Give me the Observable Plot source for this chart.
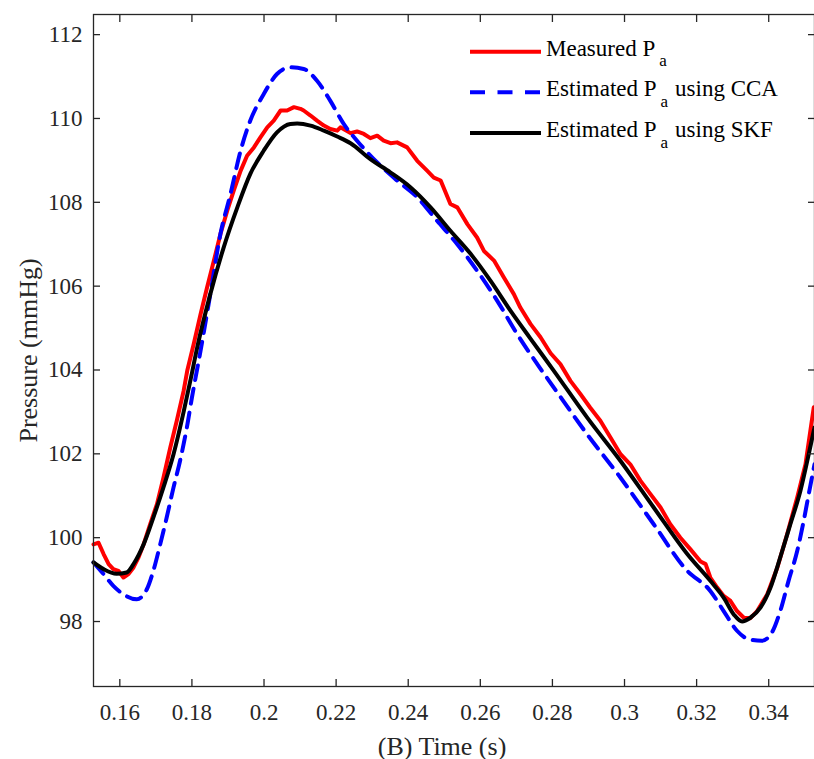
<!DOCTYPE html>
<html><head><meta charset="utf-8">
<script src="https://cdn.jsdelivr.net/npm/d3@7"></script>
<script src="https://cdn.jsdelivr.net/npm/@observablehq/plot@0.6"></script>
<style>body{margin:0;background:#fff} #chart{width:814px;height:759px}</style>
</head><body><div id="chart"></div>
<script>
// ---- data (time in s, pressure in mmHg) ----
const measuredT = [0.1527,0.1541,0.1555,0.1569,0.1582,0.1596,0.1610,0.1624,0.1638,0.1652,0.1666,0.1684,0.1703,0.1721,0.1740,0.1758,0.1777,0.1787,0.1805,0.1824,0.1842,0.1861,0.1879,0.1898,0.1916,0.1935,0.1953,0.1972,0.1990,0.2009,0.2027,0.2046,0.2064,0.2083,0.2101,0.2110,0.2129,0.2147,0.2166,0.2184,0.2203,0.2212,0.2240,0.2258,0.2277,0.2295,0.2314,0.2332,0.2351,0.2369,0.2397,0.2425,0.2453,0.2471,0.2490,0.2517,0.2536,0.2564,0.2591,0.2610,0.2638,0.2665,0.2693,0.2711,0.2739,0.2767,0.2795,0.2822,0.2850,0.2878,0.2905,0.2933,0.2961,0.2989,0.3016,0.3044,0.3072,0.3100,0.3127,0.3155,0.3183,0.3211,0.3225,0.3238,0.3257,0.3275,0.3294,0.3312,0.3331,0.3349,0.3368,0.3396,0.3424,0.3451,0.3479,0.3502,0.3525];
const measuredP = [99.84,99.88,99.61,99.37,99.25,99.21,99.05,99.13,99.29,99.53,99.84,100.32,100.80,101.43,102.15,102.79,103.50,103.98,104.62,105.33,105.97,106.61,107.24,107.80,108.28,108.75,109.11,109.31,109.55,109.79,109.95,110.19,110.19,110.27,110.23,110.19,110.07,109.95,109.83,109.75,109.71,109.79,109.65,109.69,109.63,109.53,109.59,109.47,109.41,109.43,109.31,108.99,108.75,108.59,108.52,107.96,107.88,107.48,107.16,106.84,106.61,106.21,105.81,105.49,105.10,104.78,104.40,104.14,103.74,103.42,103.10,102.79,102.39,101.99,101.75,101.36,101.04,100.72,100.32,100.00,99.72,99.43,99.37,99.05,98.81,98.61,98.49,98.25,98.09,98.08,98.25,98.65,99.29,100.08,100.96,101.75,103.11];

const ccaT = [0.1527,0.1555,0.1582,0.1610,0.1647,0.1675,0.1693,0.1712,0.1730,0.1749,0.1767,0.1786,0.1800,0.1824,0.1851,0.1879,0.1907,0.1935,0.1962,0.1999,0.2036,0.2073,0.2110,0.2147,0.2184,0.2221,0.2258,0.2314,0.2369,0.2425,0.2480,0.2536,0.2591,0.2647,0.2702,0.2758,0.2804,0.2896,0.2989,0.3081,0.3174,0.3238,0.3275,0.3312,0.3344,0.3381,0.3409,0.3432,0.3455,0.3479,0.3497,0.3511,0.3527];
const ccaP = [99.41,99.13,98.85,98.65,98.53,98.77,99.21,99.84,100.48,101.20,101.83,102.63,103.34,104.46,105.81,107.24,108.20,109.23,109.95,110.58,111.06,111.22,111.18,110.90,110.42,109.87,109.47,108.95,108.52,108.12,107.56,107.00,106.37,105.65,104.86,104.14,103.58,102.47,101.43,100.32,99.21,98.73,98.25,97.78,97.58,97.54,97.74,98.25,98.97,99.68,100.40,101.04,101.75];

const skfT = [0.1527,0.1555,0.1591,0.1619,0.1638,0.1666,0.1693,0.1721,0.1749,0.1777,0.1797,0.1815,0.1851,0.1888,0.1926,0.1962,0.1999,0.2036,0.2073,0.2092,0.2129,0.2166,0.2203,0.2240,0.2295,0.2351,0.2406,0.2462,0.2517,0.2573,0.2628,0.2684,0.2739,0.2804,0.2896,0.2989,0.3081,0.3174,0.3238,0.3275,0.3303,0.3326,0.3349,0.3377,0.3405,0.3432,0.3460,0.3488,0.3515,0.3527];
const skfP = [99.41,99.25,99.14,99.17,99.37,99.84,100.48,101.20,101.99,103.00,103.80,104.55,105.81,106.92,107.88,108.68,109.23,109.67,109.87,109.88,109.83,109.71,109.57,109.41,109.03,108.71,108.36,107.88,107.32,106.77,106.13,105.41,104.75,103.98,102.87,101.83,100.72,99.61,98.97,98.57,98.17,98.00,98.09,98.33,98.81,99.53,100.32,101.12,102.15,102.63];

const xTicks = [0.16,0.18,0.2,0.22,0.24,0.26,0.28,0.3,0.32,0.34];
const yTicks = [98,100,102,104,106,108,110,112];
const xDomain = [0.1527, 0.3527];
const yDomain = [96.45, 112.48];

const xLabel = "(B) Time (s)";
const yLabel = "Pressure (mmHg)";
const legendParts = [
  ["Measured P", "a", ""],
  ["Estimated P", "a", "using CCA"],
  ["Estimated P", "a", "using SKF"]
];

const toRows = (T, P) => T.map((t, i) => ({t, p: P[i]}));
const measured = toRows(measuredT, measuredP);
const cca = toRows(ccaT, ccaP);
const skf = toRows(skfT, skfP);

const font = "'Liberation Serif', 'Times New Roman', serif";
const ink = "#262626";

const chart = Plot.plot({
  width: 814, height: 759,
  marginLeft: 93, marginRight: 0, marginTop: 14, marginBottom: 73,
  style: {fontFamily: font, fontSize: "23px", color: ink, background: "#fff"},
  x: {domain: xDomain},
  y: {domain: yDomain},
  marks: [
    Plot.line(measured, {x: "t", y: "p", stroke: "#ff0000", strokeWidth: 4, curve: "linear"}),
    Plot.line(cca, {x: "t", y: "p", stroke: "#0000ff", strokeWidth: 4, strokeDasharray: "15,9", curve: "monotone-x"}),
    Plot.line(skf, {x: "t", y: "p", stroke: "#000000", strokeWidth: 4, curve: "monotone-x"}),
    Plot.frame({stroke: ink, strokeWidth: 1.3}),
    Plot.axisX({anchor: "bottom", ticks: xTicks, tickSize: -7, tickPadding: 24, tickFormat: d => String(d), stroke: ink, strokeWidth: 1.3, fill: ink, fontSize: 23, label: null}),
    Plot.axisX({anchor: "top", ticks: xTicks, tickSize: -7, tickFormat: () => "", stroke: ink, strokeWidth: 1.3, label: null}),
    Plot.axisY({anchor: "left", ticks: yTicks, tickSize: -7, tickPadding: 18, tickFormat: d => String(d), stroke: ink, strokeWidth: 1.3, fill: ink, fontSize: 23, label: null}),
    Plot.axisY({anchor: "right", ticks: yTicks, tickSize: -7, tickFormat: () => "", stroke: ink, strokeWidth: 1.3, label: null}),
    Plot.text([xLabel], {frameAnchor: "bottom", text: d => d, dx: -12, dy: 68, lineAnchor: "bottom", textAnchor: "middle", fontSize: 26, fill: ink}),
    Plot.text([yLabel], {frameAnchor: "left", text: d => d, rotate: -90, dx: -57, lineAnchor: "bottom", textAnchor: "middle", fontSize: 26, fill: ink})
  ]
});
document.getElementById("chart").appendChild(chart);

// ---- legend (inside plot area, top right) ----
const svg = d3.select(chart);
const legend = svg.append("g").attr("font-family", font).attr("fill", "#000").attr("text-anchor", "start");
const legendStyles = [
  {stroke: "#ff0000", dash: null},
  {stroke: "#0000ff", dash: "15,12.5"},
  {stroke: "#000000", dash: null}
];
const rowY = [51.7, 92.2, 133];
legendParts.forEach((parts, i) => {
  const y = rowY[i];
  legend.append("line").attr("x1", 470).attr("x2", 541).attr("y1", y).attr("y2", y)
    .attr("stroke", legendStyles[i].stroke).attr("stroke-width", 4).attr("stroke-dasharray", legendStyles[i].dash);
  const t = legend.append("text").attr("x", 546).attr("y", y + 4).attr("font-size", 23);
  t.append("tspan").text(parts[0]);
  t.append("tspan").attr("dx", 4).attr("dy", 10.5).attr("font-size", 17).text(parts[1]);
  if (parts[2]) t.append("tspan").attr("dx", 7).attr("dy", -10.5).attr("font-size", 23).text(parts[2]);
});
</script>
</body></html>
